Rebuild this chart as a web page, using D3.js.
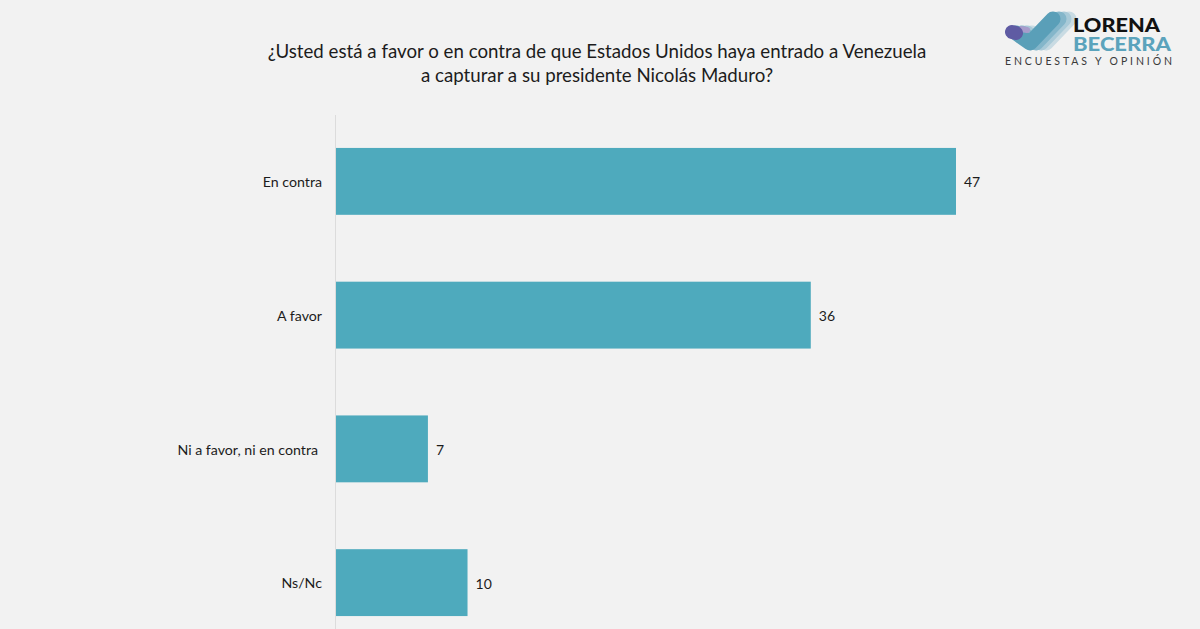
<!DOCTYPE html>
<html>
<head>
<meta charset="utf-8">
<script src="https://cdnjs.cloudflare.com/ajax/libs/d3/7.8.5/d3.min.js"></script>
<style>
  html, body { margin: 0; padding: 0; background: #f2f2f2; overflow: hidden; }
  text { font-family: Lato, sans-serif; fill: #1c1c1c; }
</style>
</head>
<body>
<script>
// datos
const categories = ['En contra', 'A favor', 'Ni a favor, ni en contra', 'Ns/Nc'];
const values = [47, 36, 7, 10];
const titleLines = [
  '¿Usted está a favor o en contra de que Estados Unidos haya entrado a Venezuela',
  'a capturar a su presidente Nicolás Maduro?'
];

const width = 1200, height = 629;
const barColor = '#4eaabd';

const svg = d3.select('body').append('svg')
  .attr('width', width)
  .attr('height', height)
  .style('display', 'block');

svg.append('rect')
  .attr('width', width)
  .attr('height', height)
  .attr('fill', '#f2f2f2');

// titulo
svg.append('g').selectAll('text')
  .data(titleLines)
  .join('text')
  .attr('x', 597)
  .attr('y', (d, i) => 58 + i * 23.5)
  .attr('text-anchor', 'middle')
  .attr('font-size', 18.7)
  .text(d => d);

// escalas
const x = d3.scaleLinear().domain([0, 47]).range([335.5, 956]);
const y = d3.scaleBand()
  .domain(categories)
  .range([114.5, 649.5])
  .paddingInner(0.5)
  .paddingOuter(0.25);

// barras
svg.append('g').selectAll('rect')
  .data(values)
  .join('rect')
  .attr('x', x(0))
  .attr('y', (d, i) => y(categories[i]))
  .attr('width', d => x(d) - x(0))
  .attr('height', y.bandwidth())
  .attr('fill', barColor);

// eje vertical
const axisLeft = svg.append('g')
  .attr('transform', `translate(${x(0) - 0.5},0)`)
  .call(d3.axisLeft(y).tickSize(0).tickPadding(13));
axisLeft.select('.domain').attr('stroke', '#dcdcdc').attr('stroke-width', 1);
axisLeft.selectAll('text')
  .attr('font-size', 14.2)
  .attr('dy', '0.4em')
  .attr('x', (d, i) => i === 2 ? -17 : -13)  // esta etiqueta queda un poco mas a la izquierda
  .style('font-family', 'Lato, sans-serif')
  .style('fill', '#1c1c1c');

// etiquetas de valor
svg.append('g').selectAll('text')
  .data(values)
  .join('text')
  .attr('x', d => x(d) + 8)
  .attr('y', (d, i) => y(categories[i]) + y.bandwidth() / 2)
  .attr('dy', '0.42em')
  .attr('font-size', 14)
  .text(d => d);

// logo
const logo = svg.append('g').attr('fill', 'none').attr('stroke-linecap', 'round').attr('stroke-linejoin', 'round');
const check = [[1016, 33], [1030, 43], [1053, 19]];
const line = d3.line();
[[16, '#c9dbe3'], [11, '#a9cad8'], [6, '#84b6ca'], [0, '#5a9fb8']].forEach(([dx, col]) => {
  logo.append('path')
    .attr('d', line(check.map(p => [p[0] + dx, p[1]])))
    .attr('stroke', col)
    .attr('stroke-width', 15);
});
logo.append('path')
  .attr('d', line([[1021, 29], [1027, 30]]))
  .attr('stroke', '#a79ccb')
  .attr('stroke-width', 6);
logo.append('path')
  .attr('d', line([[1012, 32], [1016, 33]]))
  .attr('stroke', '#5f5ba3')
  .attr('stroke-width', 14);

svg.append('text')
  .attr('x', 1073).attr('y', 32)
  .attr('font-size', 19).attr('font-weight', 900)
  .attr('textLength', 87).attr('lengthAdjust', 'spacingAndGlyphs')
  .style('fill', '#111')
  .text('LORENA');
svg.append('text')
  .attr('x', 1073).attr('y', 50.5)
  .attr('font-size', 19).attr('font-weight', 900)
  .attr('textLength', 98).attr('lengthAdjust', 'spacingAndGlyphs')
  .style('fill', '#5ba3bc')
  .text('BECERRA');
svg.append('text')
  .attr('x', 1005).attr('y', 64.5)
  .attr('font-size', 10.5)
  .attr('textLength', 167)
  .style('fill', '#3a3a3a')
  .text('ENCUESTAS Y OPINIÓN');
</script>
</body>
</html>
